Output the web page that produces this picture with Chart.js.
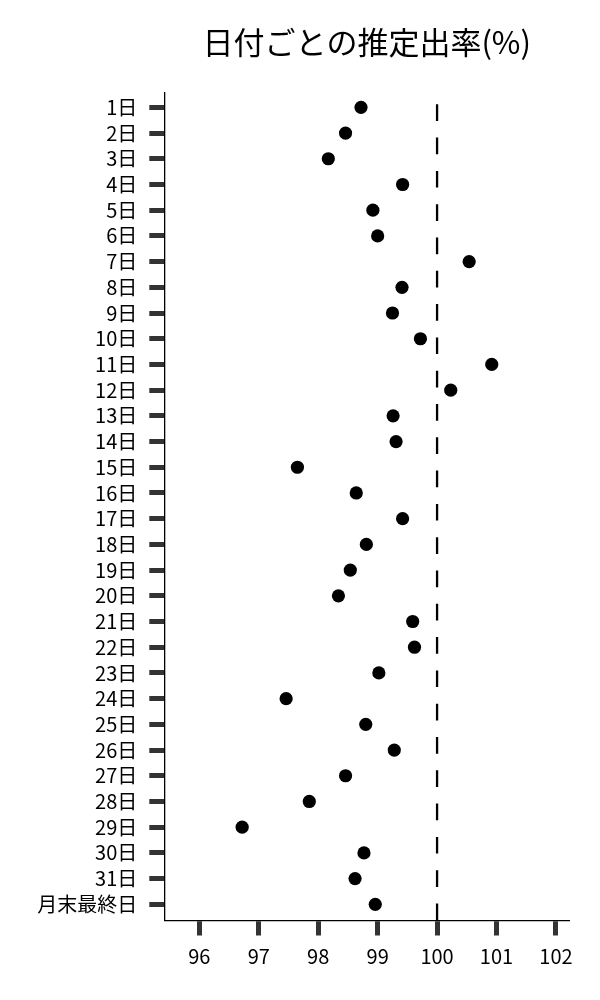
<!DOCTYPE html>
<html lang="ja">
<head>
<meta charset="utf-8">
<title>日付ごとの推定出率(%)</title>
<script src="https://cdn.jsdelivr.net/npm/chart.js@4.4.1/dist/chart.umd.min.js"></script>
<style>
  html, body { margin: 0; padding: 0; background: #fff; }
  #wrap { width: 600px; height: 1000px; position: relative; }
</style>
</head>
<body>
<div id="wrap"><canvas id="chart"></canvas></div>
<script>
// 日付ラベル（上から順）
const dayLabels = [
    '1日', '2日', '3日', '4日', '5日', '6日', '7日', '8日', '9日', '10日',
    '11日', '12日', '13日', '14日', '15日', '16日', '17日', '18日', '19日', '20日',
    '21日', '22日', '23日', '24日', '25日', '26日', '27日', '28日', '29日', '30日',
    '31日', '月末最終日'
];

// 推定出率(%)
const rates = [
    98.72, 98.46, 98.17, 99.42, 98.92, 99.00, 100.54, 99.41, 99.25, 99.72,
    100.92, 100.23, 99.26, 99.31, 97.65, 98.64, 99.42, 98.81, 98.54, 98.34,
    99.59, 99.62, 99.02, 97.46, 98.80, 99.28, 98.46, 97.85, 96.72, 98.77,
    98.62, 98.96
];

const xTicks = [96, 97, 98, 99, 100, 101, 102];
const refLine = 100; // 基準線
const titleText = '日付ごとの推定出率(%)';

Chart.defaults.font.family = '"Noto Sans CJK JP", "Noto Sans", sans-serif';
Chart.defaults.color = '#000';

// タイトルはプロット領域の中央に描く
const titlePlugin = {
    id: 'centerTitle',
    afterDraw(chart) {
        const { ctx, chartArea } = chart;
        ctx.save();
        ctx.font = '31px "Noto Sans CJK JP", sans-serif';
        ctx.fillStyle = '#000';
        ctx.textAlign = 'center';
        ctx.textBaseline = 'middle';
        ctx.fillText(titleText, (chartArea.left + chartArea.right) / 2, 42.5);
        ctx.restore();
    }
};

const yMin = -0.57;
const yMax = 31.63;

new Chart(document.getElementById('chart'), {
    type: 'scatter',
    data: {
        datasets: [
            {
                data: rates.map((v, i) => ({ x: v, y: i })),
                backgroundColor: '#000',
                borderWidth: 0,
                pointRadius: 6.6,
                pointHoverRadius: 6.6
            },
            {
                type: 'line',
                data: [{ x: refLine, y: yMin }, { x: refLine, y: yMax }],
                borderColor: '#000',
                borderWidth: 2.3,
                borderDash: [16.7, 16.6],
                borderDashOffset: 21.7,
                pointRadius: 0,
                fill: false
            }
        ]
    },
    options: {
        responsive: true,
        maintainAspectRatio: false,
        animation: false,
        layout: { padding: { top: 92.7, right: 31, bottom: 0, left: 0 } },
        plugins: {
            legend: { display: false },
            title: { display: false },
            tooltip: { enabled: false }
        },
        scales: {
            x: {
                type: 'linear',
                min: 95.41,
                max: 102.22,
                afterBuildTicks: (scale) => { scale.ticks = xTicks.map(v => ({ value: v })); },
                afterFit: (scale) => { scale.height = 79.5; },
                ticks: { font: { size: 20 }, color: '#000', padding: 9 },
                grid: {
                    drawOnChartArea: false,
                    drawTicks: true,
                    tickLength: 15,
                    tickWidth: 5,
                    tickColor: '#333'
                },
                border: { display: true, color: '#000', width: 1.3 }
            },
            y: {
                type: 'linear',
                reverse: true,
                min: yMin,
                max: yMax,
                afterBuildTicks: (scale) => { scale.ticks = dayLabels.map((_, i) => ({ value: i })); },
                afterFit: (scale) => { scale.width = 164.3; },
                ticks: {
                    font: { size: 20 },
                    color: '#000',
                    padding: 12,
                    autoSkip: false,
                    callback: (v) => dayLabels[v]
                },
                grid: {
                    drawOnChartArea: false,
                    drawTicks: true,
                    tickLength: 15,
                    tickWidth: 5,
                    tickColor: '#333'
                },
                border: { display: true, color: '#000', width: 1.3 }
            }
        }
    },
    plugins: [titlePlugin]
});
</script>
</body>
</html>
